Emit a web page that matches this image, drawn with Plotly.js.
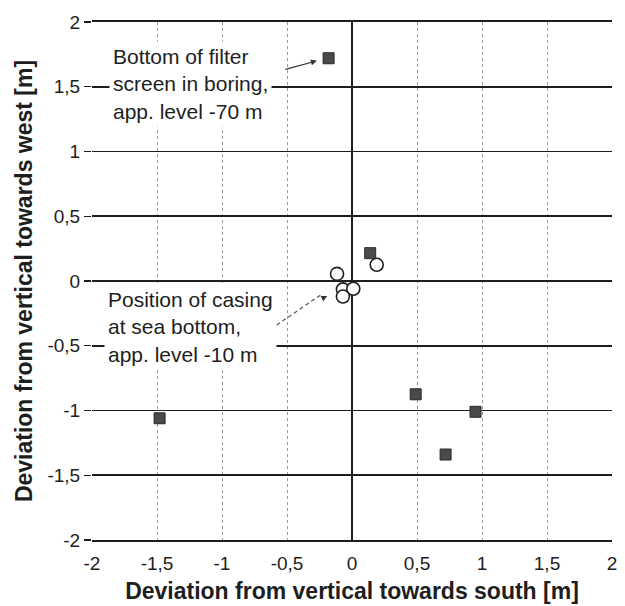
<!DOCTYPE html>
<html>
<head>
<meta charset="utf-8">
<script src="https://cdn.plot.ly/plotly-3.0.1.min.js"></script>
<style>html,body{margin:0;padding:0;background:#fff;}#chart{width:625px;height:606px;}</style>
</head>
<body>
<div id="chart"></div>
<script>
// Bottom of filter screen (app. level -70 m)
const filterSouth = [-0.18, 0.14, 0.49, 0.95, 0.72, -1.48];
const filterWest  = [1.72, 0.215, -0.875, -1.01, -1.34, -1.06];
// Casing at sea bottom (app. level -10 m)
const casingSouth = [-0.115, 0.19, -0.07, 0.01, -0.07];
const casingWest  = [0.055, 0.125, -0.065, -0.06, -0.12];

const tickVals = [-2, -1.5, -1, -0.5, 0, 0.5, 1, 1.5, 2];
const tickText = ['-2', '-1,5', '-1', '-0,5', '0', '0,5', '1', '1,5', '2'];

const xTitle = 'Deviation from vertical towards south [m]';
const yTitle = 'Deviation from vertical towards west [m]';
const filterLabel = 'Bottom of filter<br>screen in boring,<br>app. level -70 m';
const casingLabel = 'Position of casing<br>at sea bottom,<br>app. level -10 m';

const FONT = 'Liberation Sans, Arial, Helvetica, sans-serif';
const INK = '#1e1e1e';

const traces = [
  {
    x: casingSouth, y: casingWest, type: 'scatter', mode: 'markers',
    marker: {symbol: 'circle', size: 13, color: '#ffffff', line: {color: INK, width: 1.6}},
    hoverinfo: 'x+y', showlegend: false
  },
  {
    x: filterSouth, y: filterWest, type: 'scatter', mode: 'markers',
    marker: {symbol: 'square', size: 11, color: '#4a4a4a', line: {color: '#2a2a2a', width: 1}},
    hoverinfo: 'x+y', showlegend: false
  }
];

const layout = {
  width: 625, height: 606,
  margin: {l: 92, r: 13, t: 22, b: 66},
  paper_bgcolor: '#ffffff', plot_bgcolor: '#ffffff',
  font: {family: FONT, color: INK, size: 19},
  showlegend: false,
  xaxis: {
    range: [-2, 2], tickvals: tickVals, ticktext: tickText,
    showgrid: true, gridcolor: '#9a9a9a', gridwidth: 1, griddash: '3px,3px',
    zeroline: true, zerolinecolor: INK, zerolinewidth: 2,
    showline: true, linecolor: INK, linewidth: 1.6, mirror: true,
    ticks: '', ticklabelstandoff: 6,
    tickfont: {size: 19, family: FONT, color: INK},
    title: {text: xTitle, font: {size: 23, family: FONT, color: INK, weight: 'bold'}, standoff: 9},
    fixedrange: true
  },
  yaxis: {
    range: [-2, 2], tickvals: tickVals, ticktext: tickText,
    showgrid: true, gridcolor: INK, gridwidth: 1.6,
    zeroline: true, zerolinecolor: INK, zerolinewidth: 2,
    showline: false,
    ticks: 'outside', ticklen: 7, tickcolor: INK, tickwidth: 1.2,
    tickfont: {size: 19, family: FONT, color: INK},
    title: {text: yTitle, font: {size: 23, family: FONT, color: INK, weight: 'bold'}, standoff: 8},
    fixedrange: true
  },
  shapes: [
    {type: 'line', xref: 'x', yref: 'y', x0: -0.58, y0: -0.34, x1: -0.23, y1: -0.10,
     line: {color: '#555', width: 1.2, dash: '4px,3px'}}
  ],
  annotations: [
    {x: -1.87, y: 1.52, xref: 'x', yref: 'y', xanchor: 'left', yanchor: 'middle', align: 'left',
     text: filterLabel, showarrow: false, bgcolor: '#ffffff', borderpad: 3,
     font: {size: 21, family: FONT, color: INK}},
    {x: -1.91, y: -0.355, xref: 'x', yref: 'y', xanchor: 'left', yanchor: 'middle', align: 'left',
     text: casingLabel, showarrow: false, bgcolor: '#ffffff', borderpad: 3,
     font: {size: 21, family: FONT, color: INK}},
    {x: -0.27, y: 1.70, xref: 'x', yref: 'y', ax: -33, ay: 9, text: '', showarrow: true,
     arrowhead: 2, arrowsize: 1, arrowwidth: 1.2, arrowcolor: '#333'},
    {x: -0.19, y: -0.115, xref: 'x', yref: 'y', ax: -6, ay: 3, text: '', showarrow: true,
     arrowhead: 2, arrowsize: 1, arrowwidth: 1.2, arrowcolor: '#333'}
  ]
};

Plotly.newPlot('chart', traces, layout, {displayModeBar: false, staticPlot: true});
</script>
</body>
</html>
